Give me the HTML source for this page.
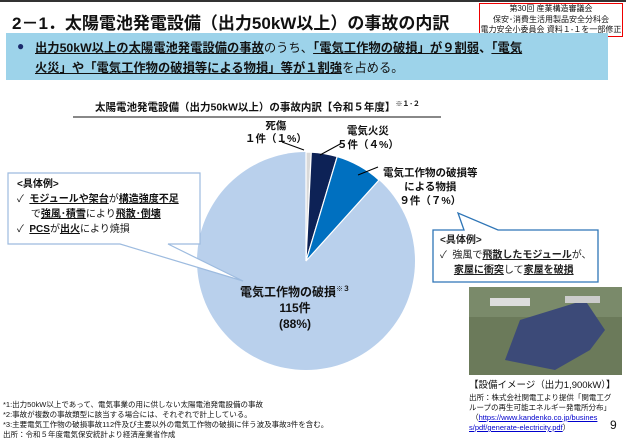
<!DOCTYPE html>
<html><head><meta charset="utf-8"><style>
body{margin:0;width:626px;height:441px;background:#fff;position:relative;overflow:hidden;font-family:"Liberation Sans","Noto Sans CJK JP",sans-serif;color:#111}
.a{position:absolute;white-space:nowrap}
u{text-decoration:underline}
</style></head><body>
<div class="a" style="left:0;top:0;width:626px;height:2px;background:#333"></div>
<div class="a" style="left:12px;top:9px;font-size:17px;font-weight:bold">2－1．太陽電池発電設備（出力50kW以上）の事故の内訳</div>
<div class="a" style="left:479px;top:3px;width:142px;height:32px;border:1.5px solid #e00;font-size:8px;line-height:10.5px;text-align:center;background:#fff">第30回 産業構造審議会<br>保安･消費生活用製品安全分科会<br>電力安全小委員会 資料１-１を一部修正</div>
<div class="a" style="left:6px;top:33px;width:602px;height:47px;background:#9dd3ea"></div>
<div class="a" style="left:17px;top:39px;font-size:12px;color:#1a2a6c">●</div>
<div class="a" style="left:35px;top:38px;font-size:12.3px;line-height:20px;font-weight:bold"><u>出力50kW以上の太陽電池発電設備の事故</u><span style="font-weight:normal">のうち、</span><u>「電気工作物の破損」が９割弱</u>、<u>「電気</u><br><u>火災」や「電気工作物の破損等による物損」等が１割強</u><span style="font-weight:normal">を占める。</span></div>
<div class="a" style="left:95px;top:99px;font-size:10.5px;font-weight:bold">太陽電池発電設備（出力50kW以上）の事故内訳【令和５年度】<sup style="font-size:7px">※１･２</sup></div>
<div class="a" style="left:73px;top:116px;width:368px;height:2px;background:#888"></div>
<svg class="a" style="left:0;top:0" width="626" height="441">
<circle cx="306" cy="261" r="109" fill="#b9d0ec"/>
<path d="M306,261 L306,152 A109,109 0 0 1 311.3,152.1Z" fill="#d9d9d9" stroke="#fff" stroke-width="1.2"/>
<path d="M306,261 L311.3,152.1 A109,109 0 0 1 337.2,156.6Z" fill="#0d2256" stroke="#fff" stroke-width="1.2"/>
<path d="M306,261 L337.2,156.6 A109,109 0 0 1 379,180Z" fill="#0070c0" stroke="#fff" stroke-width="1.2"/>
<line x1="282" y1="142" x2="304" y2="150" stroke="#000"/>
<line x1="342" y1="143" x2="320" y2="155" stroke="#000"/>
<line x1="378" y1="167" x2="358" y2="175" stroke="#000"/>
<polygon points="8,173 200,173 200,244 168,244 243,281 120,244 8,244" fill="#fff" stroke="#9dbbdf" stroke-width="1.2"/>
<polygon points="433,230 433,282 598,282 598,230 498,230 458,213 464,230" fill="#fff" stroke="#2e75b6" stroke-width="1.3"/>
<rect x="469" y="287" width="153" height="88" fill="#6b7a5a"/>
<rect x="469" y="287" width="153" height="30" fill="#7a8a6a"/>
<polygon points="520,320 585,300 605,330 590,350 555,370 505,360" fill="#3c4a78"/>
<rect x="490" y="298" width="40" height="8" fill="#ddd"/>
<rect x="565" y="296" width="35" height="7" fill="#ccc"/>
</svg>
<div class="a" style="left:245px;top:120px;font-size:10.5px;font-weight:bold;text-align:center;line-height:13px">死傷<br>１件（１%）</div>
<div class="a" style="left:337px;top:124px;font-size:10.5px;font-weight:bold;text-align:center;line-height:14px">電気火災<br>５件（４%）</div>
<div class="a" style="left:383px;top:166px;font-size:10.5px;font-weight:bold;text-align:center;line-height:14px">電気工作物の破損等<br>による物損<br>９件（７%）</div>
<div class="a" style="left:240px;top:282px;font-size:12px;font-weight:bold;text-align:center;line-height:16px">電気工作物の破損<sup style="font-size:7px">※３</sup><br>115件<br>(88%)</div>
<div class="a" style="left:17px;top:177px;font-size:10px;line-height:15px"><b>&lt;具体例&gt;</b><br>✓&nbsp; <b><u>モジュールや架台</u></b>が<b><u>構造強度不足</u></b><br>&nbsp;&nbsp;&nbsp;&nbsp;&nbsp;で<b><u>強風･積雪</u></b>により<b><u>飛散･倒壊</u></b><br>✓&nbsp; <b><u>PCS</u></b>が<b><u>出火</u></b>により焼損</div>
<div class="a" style="left:440px;top:233px;font-size:10px;line-height:15px;color:#222"><b>&lt;具体例&gt;</b><br>✓&nbsp; 強風で<b><u>飛散したモジュール</u></b>が、<br>&nbsp;&nbsp;&nbsp;&nbsp;&nbsp;<b><u>家屋に衝突</u></b>して<b><u>家屋を破損</u></b></div>
<div class="a" style="left:469px;top:377px;font-size:9.5px">【設備イメージ（出力1,900kW）】</div>
<div class="a" style="left:469px;top:393px;font-size:7.5px;line-height:10px">出所：株式会社関電工より提供「関電工グ<br>ループの再生可能エネルギー発電所分布」<br>&nbsp;（<u style="color:#00c">https://www.kandenko.co.jp/busines</u><br><u style="color:#00c">s/pdf/generate-electricity.pdf</u>）</div>
<div class="a" style="left:610px;top:418px;font-size:12px">9</div>
<div class="a" style="left:3px;top:400px;font-size:7.5px;line-height:10px">*1:出力50kW以上であって、電気事業の用に供しない太陽電池発電設備の事故<br>*2:事故が複数の事故類型に該当する場合には、それぞれで計上している。<br>*3:主要電気工作物の破損事故112件及び主要以外の電気工作物の破損に伴う波及事故3件を含む。<br>出所：令和５年度電気保安統計より経済産業省作成</div>
</body></html>
